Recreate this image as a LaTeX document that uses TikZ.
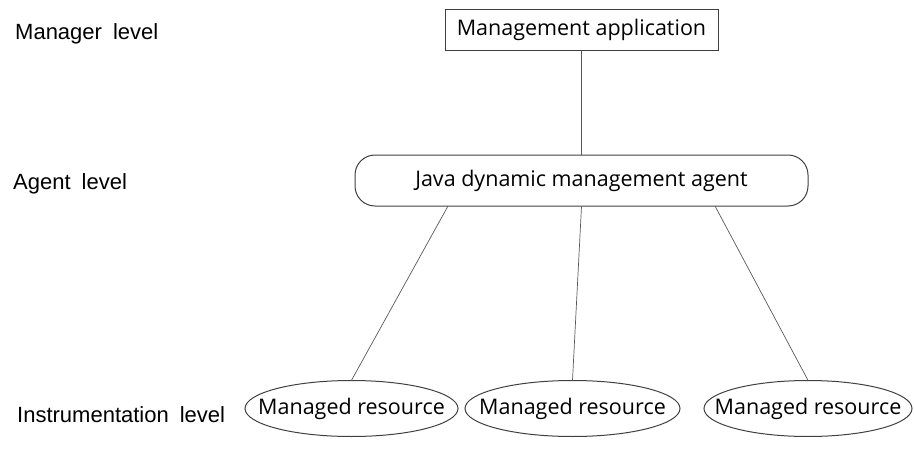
\documentclass[tikz,border=0pt]{standalone}
\usepackage{fontspec}
\setmainfont{Open Sans}
\newfontfamily\lblfont{Liberation Sans}
\newcommand\lvlfont{\lblfont\fontsize{22}{24}\selectfont\spaceskip 11pt\relax}
\begin{document}
\begin{tikzpicture}[x=1pt,y=-1pt,
  conn/.style={draw=black!65, line width=0.7pt},
  boxline/.style={draw=black!75, line width=1pt},
  lvl/.style={anchor=west, font=\lvlfont, inner sep=0pt},
  res/.style={rectangle, inner sep=0pt, minimum height=56pt, font=\fontsize{21.5}{24}\selectfont}]
\useasboundingbox (0,0) rectangle (914,452);
\node[lvl] (l1) at (15,34) {Manager level};
\node[lvl] (l2) at (13,184) {Agent level};
\node[lvl] (l3) at (17,415) {Instrumentation level};
\node[boxline, rectangle, minimum width=273pt, minimum height=41pt, font=\fontsize{21.5}{24}\selectfont] (app) at (581.5,30) {Management application};
\node[boxline, rounded corners=20pt, minimum width=453pt, minimum height=51pt, font=\fontsize{21.5}{24}\selectfont] (agent) at (581.5,180.5) {Java dynamic management agent};
\node[res] (r1) at (351.5,408.5) {Managed resource};
\node[res] (r2) at (572.5,408.5) {Managed resource};
\node[res] (r3) at (808,408.5) {Managed resource};
\draw[boxline] (r1.center) ellipse[x radius=106.5, y radius=28];
\draw[boxline] (r2.center) ellipse[x radius=107.5, y radius=28];
\draw[boxline] (r3.center) ellipse[x radius=104, y radius=28];
\coordinate (a1) at (448,206);
\coordinate (a3) at (715,206);
\draw[conn] (app.south) -- (agent.north);
\draw[conn] (a1) -- (r1.north);
\draw[conn] (agent.south) -- (r2.north);
\draw[conn] (a3) -- (r3.north);
\end{tikzpicture}
\end{document}
